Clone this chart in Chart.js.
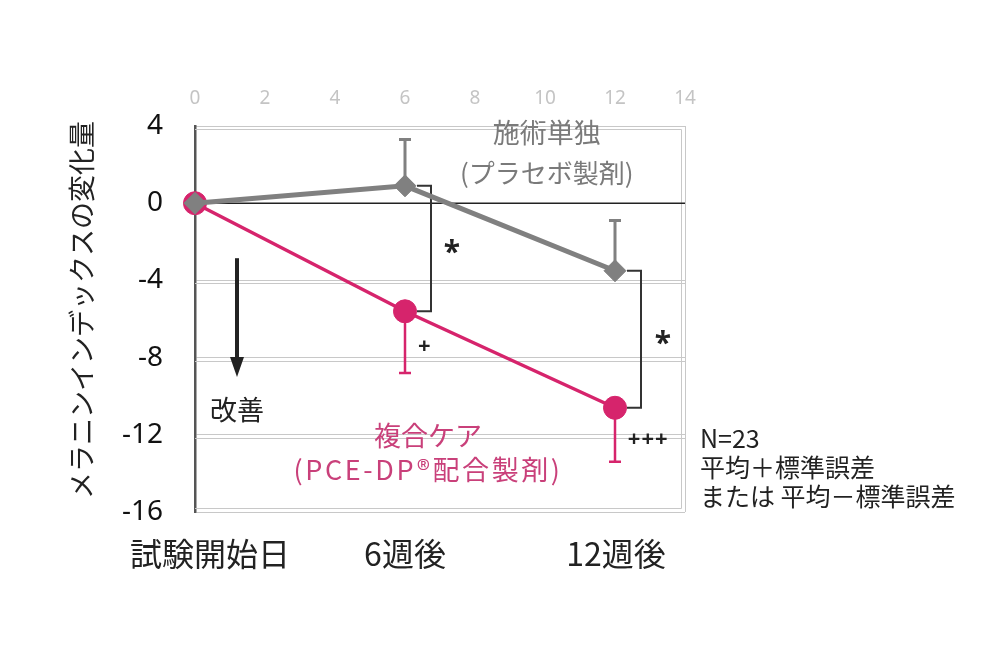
<!DOCTYPE html>
<html><head><meta charset="utf-8">
<script src="https://cdn.jsdelivr.net/npm/chart.js@4.4.1/dist/chart.umd.min.js"></script>
<style>html,body{margin:0;padding:0;background:#fff}#wrap{width:1000px;height:670px}</style>
</head><body><div id="wrap"><canvas id="c" width="1000" height="670"></canvas></div>
<script>
const weeks = [0, 6, 12];
const weekLabels = ['試験開始日', '6週後', '12週後'];
const placebo = [0, 0.9, -3.5];
const placeboSE = [0, 2.4, 2.6];
const combo = [0, -5.6, -10.6];
const comboSE = [0, 3.2, 2.8];
const yTicks = [4, 0, -4, -8, -12, -16];
const xTopTicks = [0, 2, 4, 6, 8, 10, 12, 14];
const placeboName = ['施術単独', '(プラセボ製剤)'];
const comboName = ['複合ケア', '(PCE-DP®配合製剤)'];
const noteLines = ['N=23', '平均＋標準誤差', 'または 平均－標準誤差'];
const yTitle = 'メラニンインデックスの変化量';

const PINK = '#d6246c';
const GRAY = '#808080';
const FONT = '"Noto Sans", "Noto Sans CJK JP", sans-serif';
const JFONT = '"Noto Sans CJK JP", "Noto Sans", sans-serif';

const overlay = {
  id: 'overlay',
  beforeDatasetsDraw(chart) {
    const {ctx, scales: {x, y}, chartArea: a} = chart;
    ctx.save();
    ctx.strokeStyle = '#c8c8c8'; ctx.lineWidth = 1;
    [-4, -8, -12].forEach(v => {
      const py = Math.round(y.getPixelForValue(v)) + 3.5;
      ctx.beginPath(); ctx.moveTo(a.left, py); ctx.lineTo(a.right, py); ctx.stroke();
    });
    ctx.beginPath(); ctx.moveTo(a.left, a.bottom - 3.5); ctx.lineTo(a.right - 3.5, a.bottom - 3.5);
    ctx.lineTo(a.right - 3.5, a.top + 3.5); ctx.lineTo(a.left, a.top + 3.5); ctx.stroke();
    ctx.strokeStyle = '#222'; ctx.lineWidth = 1.5;
    const y0 = y.getPixelForValue(0);
    ctx.beginPath(); ctx.moveTo(a.left, y0); ctx.lineTo(a.right, y0); ctx.stroke();
    const eb = (vals, se, dir, color, w, cap) => {
      ctx.strokeStyle = color; ctx.lineWidth = w;
      weeks.forEach((wk, i) => {
        if (!se[i]) return;
        const px = x.getPixelForValue(wk);
        const p1 = y.getPixelForValue(vals[i]);
        const p2 = y.getPixelForValue(vals[i] + dir * se[i]);
        ctx.beginPath(); ctx.moveTo(px, p1); ctx.lineTo(px, p2);
        ctx.moveTo(px - cap, p2); ctx.lineTo(px + cap, p2); ctx.stroke();
      });
    };
    eb(placebo, placeboSE, 1, GRAY, 3, 6);
    eb(combo, comboSE, -1, PINK, 2.5, 6);
    ctx.strokeStyle = '#333'; ctx.lineWidth = 2;
    const br = i => {
      const xa = x.getPixelForValue(weeks[i]) + 12;
      const xb = x.getPixelForValue(weeks[i]) + 26;
      const ya = y.getPixelForValue(placebo[i]);
      const yb = y.getPixelForValue(combo[i]);
      ctx.beginPath(); ctx.moveTo(xa, ya); ctx.lineTo(xb, ya); ctx.lineTo(xb, yb); ctx.lineTo(xa, yb); ctx.stroke();
    };
    br(1); br(2);
    const ax = x.getPixelForValue(1.2);
    const ay1 = y.getPixelForValue(-2.85), ay2 = y.getPixelForValue(-9.0);
    ctx.strokeStyle = '#222'; ctx.fillStyle = '#222'; ctx.lineWidth = 4;
    ctx.beginPath(); ctx.moveTo(ax, ay1); ctx.lineTo(ax, ay2 - 16); ctx.stroke();
    ctx.beginPath(); ctx.moveTo(ax - 7, ay2 - 20); ctx.lineTo(ax + 7, ay2 - 20); ctx.lineTo(ax, ay2); ctx.closePath(); ctx.fill();
    ctx.restore();
  },
  afterDraw(chart) {
    const {ctx, scales: {x, y}, chartArea: a} = chart;
    ctx.save();
    ctx.textAlign = 'center'; ctx.textBaseline = 'middle';
    const t = (s, xv, yv, font, color, spacing) => {
      ctx.font = font; ctx.fillStyle = color;
      ctx.letterSpacing = spacing || '0px';
      ctx.fillText(s, x.getPixelForValue(xv), y.getPixelForValue(yv));
      ctx.letterSpacing = '0px';
    };
    t(placeboName[0], 10.05, 3.63, '27px ' + JFONT, '#7a7a7a');
    t(placeboName[1], 10.05, 1.55, '26px ' + JFONT, '#7a7a7a');
    t(comboName[0], 6.66, -12.05, '27px ' + JFONT, '#c9407a');
    t(comboName[1], 6.66, -13.8, '27px ' + JFONT, '#c9407a', '2.6px');
    t('改善', 1.2, -10.7, '27px ' + JFONT, '#222');
    t('*', 7.34, -2.6, 'bold 30px ' + FONT, '#222');
    t('*', 13.37, -7.3, 'bold 30px ' + FONT, '#222');
    t('+', 6.55, -7.45, 'bold 22px ' + FONT, '#222');
    t('+++', 12.95, -12.25, 'bold 22px ' + FONT, '#222', '1px');
    ctx.font = '32px ' + JFONT; ctx.fillStyle = '#222';
    const offs = [15, 0, 1];
    weeks.forEach((wk, i) => {
      ctx.fillText(weekLabels[i], x.getPixelForValue(wk) + offs[i], a.bottom + 42);
    });
    ctx.textAlign = 'left'; ctx.font = '25px ' + JFONT;
    noteLines.forEach((s, i) => ctx.fillText(s, a.right + 15, y.getPixelForValue(-12.2) + i * 29));
    ctx.save();
    ctx.translate(82, 310);
    ctx.rotate(-Math.PI / 2);
    ctx.textAlign = 'center';
    ctx.font = '27px ' + JFONT;
    ctx.fillText(yTitle, 0, 0);
    ctx.restore();
    ctx.restore();
  }
};

new Chart(document.getElementById('c'), {
  type: 'line',
  data: {
    datasets: [
      {
        label: placeboName.join(''),
        order: 1, clip: false,
        data: weeks.map((w, i) => ({x: w, y: placebo[i]})),
        borderColor: GRAY, backgroundColor: GRAY, borderWidth: 5,
        pointStyle: 'rectRot', pointRadius: 11, pointHoverRadius: 11,
        pointBackgroundColor: GRAY, pointBorderColor: GRAY, pointBorderWidth: 1
      },
      {
        label: comboName.join(''),
        order: 2, clip: false,
        data: weeks.map((w, i) => ({x: w, y: combo[i]})),
        borderColor: PINK, backgroundColor: PINK, borderWidth: 3.5,
        pointStyle: 'circle', pointRadius: 11.5, pointHoverRadius: 11.5,
        pointBackgroundColor: PINK, pointBorderColor: PINK, pointBorderWidth: 1
      }
    ]
  },
  options: {
    responsive: false, animation: false,
    layout: {padding: {left: 0, right: 315, top: 0, bottom: 158}},
    plugins: {legend: {display: false}, tooltip: {enabled: false}},
    scales: {
      x: {
        type: 'linear', position: 'top', min: 0, max: 14,
        afterBuildTicks: s => { s.ticks = xTopTicks.map(v => ({value: v})); },
        afterFit: s => { s.height = 126; },
        ticks: {color: '#c4c4c4', font: {size: 19, family: FONT}, padding: 16},
        grid: {drawTicks: false, color: c => c.tick && c.tick.value === 14 ? '#c8c8c8' : 'rgba(0,0,0,0)', lineWidth: 1},
        border: {color: '#c8c8c8', width: 1}
      },
      y: {
        min: -16, max: 4,
        afterBuildTicks: s => { s.ticks = yTicks.map(v => ({value: v})); },
        afterFit: s => { s.width = 195; },
        ticks: {color: '#111', font: {size: 28, family: FONT}, padding: 32},
        grid: {drawTicks: false, color: c => (c.tick && c.tick.value === 0) ? '#222' : '#c8c8c8', lineWidth: 1},
        border: {color: '#555', width: 2.5}
      }
    }
  },
  plugins: [overlay]
});
</script></body></html>
